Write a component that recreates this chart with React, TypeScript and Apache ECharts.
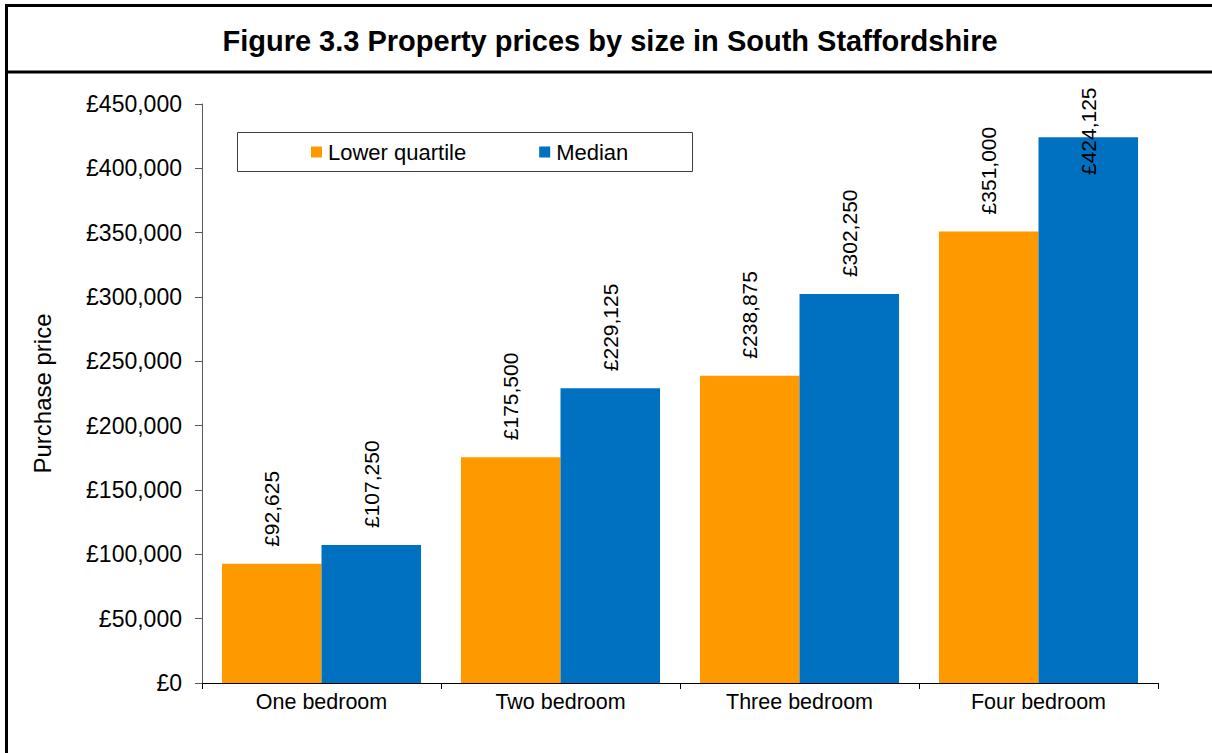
import React, { useEffect, useRef } from "react";
import * as echarts from "echarts";

const categories = ["One bedroom", "Two bedroom", "Three bedroom", "Four bedroom"];
const lowerQuartile = [92625, 175500, 238875, 351000];
const median = [107250, 229125, 302250, 424125];
const seriesNames = ["Lower quartile", "Median"];
const titleText = "Figure 3.3 Property prices by size in South Staffordshire";
const yAxisName = "Purchase price";
const yMax = 450000;
const yInterval = 50000;

const FONT = 'Arial, "Liberation Sans", sans-serif';

const fmt = (v: number) => "£" + v.toLocaleString("en-GB");

export default function App() {
  const ref = useRef<HTMLDivElement>(null);
  useEffect(() => {
    if (!ref.current) return;
    const chart = echarts.init(ref.current, undefined, { renderer: "svg" });
    const gridTop = 104;
    const gridBottomY = 683;
    const pxPerUnit = (gridBottomY - gridTop) / yMax;
    const labelLen = (v: number) => fmt(v).length * 0.53 * 21;
    const mkData = (arr: number[]) =>
      arr.map((v) => {
        const top = gridBottomY - v * pxPerUnit;
        const end = top - 17 - labelLen(v);
        if (end < 86) {
          // clamp the label inside the chart area like the original
          const d = -(86 + labelLen(v) - top);
          return { value: v, label: { distance: d } };
        }
        return { value: v };
      });
    const labelCfg = {
      show: true,
      position: "top",
      rotate: 90,
      align: "left",
      verticalAlign: "middle",
      distance: 17,
      fontFamily: FONT,
      fontSize: 21,
      color: "#000",
      formatter: (p: any) => fmt(p.value),
    };
    chart.setOption({
      animation: false,
      backgroundColor: "#fff",
      textStyle: { fontFamily: FONT },
      graphic: [
        {
          type: "rect",
          shape: { x: 6.5, y: 5.5, width: 1230, height: 780 },
          style: { fill: "none", stroke: "#000", lineWidth: 3 },
          silent: true,
        },
        {
          type: "line",
          shape: { x1: 6, y1: 72, x2: 1212, y2: 72 },
          style: { stroke: "#000", lineWidth: 3 },
          silent: true,
        },
        {
          type: "text",
          x: 610,
          y: 41,
          style: {
            text: titleText,
            fontFamily: FONT,
            fontSize: 29,
            fontWeight: "bold",
            fill: "#000",
            align: "center",
            verticalAlign: "middle",
          },
        },
        {
          type: "rect",
          shape: { x: 237.5, y: 132.5, width: 455, height: 39 },
          style: { fill: "#fff", stroke: "#404040", lineWidth: 1 },
          z: 5,
          silent: true,
        },
      ],
      legend: {
        data: seriesNames,
        left: 311,
        top: 140,
        icon: "rect",
        itemWidth: 11,
        itemHeight: 11,
        itemGap: 73,
        padding: 0,
        z: 10,
        textStyle: {
          fontFamily: FONT,
          fontSize: 22,
          color: "#000",
          lineHeight: 24,
          padding: [0, 0, 0, 1],
        },
      },
      grid: { left: 202, right: 54, top: gridTop, bottom: 753 - gridBottomY },
      xAxis: {
        type: "category",
        data: categories,
        axisLine: { lineStyle: { color: "#000", width: 1 } },
        axisTick: { show: true, length: 6, lineStyle: { color: "#000" } },
        axisLabel: { fontFamily: FONT, fontSize: 21.5, color: "#000", margin: 8 },
      },
      yAxis: {
        type: "value",
        min: 0,
        max: yMax,
        interval: yInterval,
        name: yAxisName,
        nameLocation: "middle",
        nameGap: 148,
        nameTextStyle: { fontFamily: FONT, fontSize: 24, color: "#000" },
        axisLine: { show: true, lineStyle: { color: "#595959", width: 1 } },
        axisTick: { show: true, length: 7, lineStyle: { color: "#595959" } },
        splitLine: { show: false },
        axisLabel: {
          fontFamily: FONT,
          fontSize: 23,
          color: "#000",
          margin: 20,
          formatter: (v: number) => fmt(v),
        },
      },
      series: [
        {
          name: seriesNames[0],
          type: "bar",
          data: mkData(lowerQuartile),
          itemStyle: { color: "#FF9900" },
          barGap: "0%",
          barCategoryGap: "16.7%",
          label: labelCfg,
        },
        {
          name: seriesNames[1],
          type: "bar",
          data: mkData(median),
          itemStyle: { color: "#0070C0" },
          barGap: "0%",
          barCategoryGap: "16.7%",
          label: labelCfg,
        },
      ],
    });
    return () => chart.dispose();
  }, []);
  return (
    <div
      ref={ref}
      style={{ position: "fixed", left: 0, top: 0, width: 1212, height: 753 }}
    />
  );
}
